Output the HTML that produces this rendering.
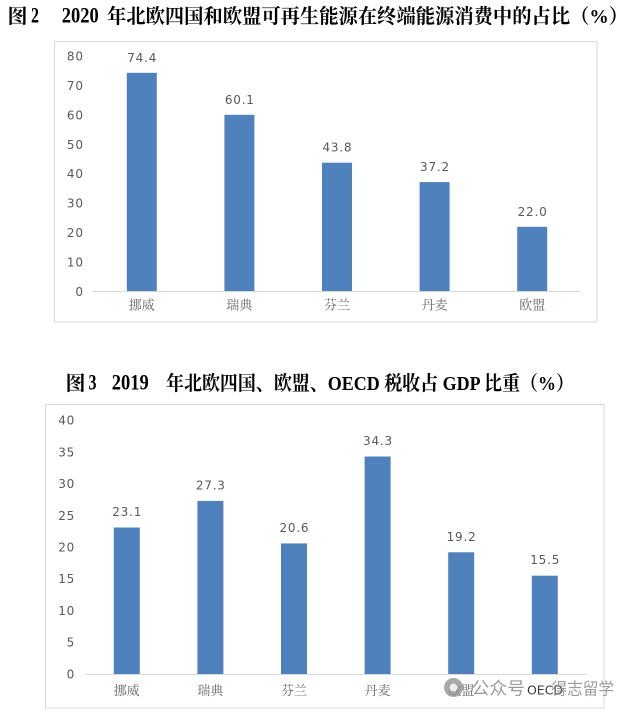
<!DOCTYPE html>
<html><head><meta charset="utf-8"><style>
html,body{margin:0;padding:0;background:#fff;}
svg{display:block;}
.t{font-family:"Liberation Serif","Noto Serif CJK SC",serif;font-weight:bold;fill:#000;}
.n{font-family:"DejaVu Sans","Liberation Sans",sans-serif;font-size:12px;fill:#595959;letter-spacing:0.8px;}
.c{font-family:"Liberation Serif","Noto Serif CJK SC",serif;font-size:13px;fill:#666;}
</style></head><body>
<svg width="635" height="713" viewBox="0 0 635 713" xmlns="http://www.w3.org/2000/svg">
<rect width="635" height="713" fill="#fff"/>
<!-- Title 1 -->
<text class="t" x="7.5" y="23" font-size="20">图</text>
<text class="t" x="31" y="22.7" font-size="22" textLength="8" lengthAdjust="spacingAndGlyphs">2</text>
<text class="t" x="61.7" y="22.7" font-size="22" textLength="37" lengthAdjust="spacingAndGlyphs">2020</text>
<text class="t" x="107" y="23" font-size="20" textLength="521" lengthAdjust="spacingAndGlyphs">年北欧四国和欧盟可再生能源在终端能源消费中的占比（%）</text>

<!-- Chart 1 -->
<rect x="54.5" y="41.5" width="542.5" height="280.5" fill="#fff" stroke="#d9d9d9" stroke-width="1"/>
<g class="n" text-anchor="end">
<text x="83.8" y="295.8">0</text>
<text x="83.8" y="266.4">10</text>
<text x="83.8" y="237">20</text>
<text x="83.8" y="207.6">30</text>
<text x="83.8" y="178.2">40</text>
<text x="83.8" y="148.8">50</text>
<text x="83.8" y="119.4">60</text>
<text x="83.8" y="90">70</text>
<text x="83.8" y="60.6">80</text>
</g>
<g fill="#4f81bd">
<rect x="126.8" y="72.8" width="30" height="218.7"/>
<rect x="224.4" y="114.8" width="30" height="176.7"/>
<rect x="322" y="162.7" width="30" height="128.8"/>
<rect x="419.6" y="182.1" width="30" height="109.4"/>
<rect x="517.2" y="226.8" width="30" height="64.7"/>
</g>
<line x1="93" y1="291.5" x2="581" y2="291.5" stroke="#d9d9d9" stroke-width="1"/>
<g class="n" text-anchor="middle" fill="#404040">
<text x="142.2" y="61.8">74.4</text>
<text x="239.8" y="103.8">60.1</text>
<text x="337.4" y="151.7">43.8</text>
<text x="435" y="171.1">37.2</text>
<text x="532.6" y="215.8">22.0</text>
</g>
<g class="c" text-anchor="middle">
<text x="141.8" y="309.5">挪威</text>
<text x="239.4" y="309.5">瑞典</text>
<text x="337" y="309.5">芬兰</text>
<text x="434.6" y="309.5">丹麦</text>
<text x="532.2" y="309.5">欧盟</text>
</g>

<!-- Title 2 -->
<text class="t" x="65.5" y="390" font-size="20">图</text>
<text class="t" x="88.5" y="389.7" font-size="22" textLength="8" lengthAdjust="spacingAndGlyphs">3</text>
<text class="t" x="111.7" y="389.7" font-size="22" textLength="37" lengthAdjust="spacingAndGlyphs">2019</text>
<text class="t" x="166" y="390" font-size="20" textLength="408" lengthAdjust="spacingAndGlyphs">年北欧四国、欧盟、OECD 税收占 GDP 比重（%）</text>

<!-- Chart 2 -->
<rect x="45.5" y="404.5" width="558.5" height="303.5" fill="#fff" stroke="#d9d9d9" stroke-width="1"/>
<g class="n" text-anchor="end">
<text x="75.1" y="678.3">0</text>
<text x="75.1" y="646.6">5</text>
<text x="75.1" y="614.9">10</text>
<text x="75.1" y="583.2">15</text>
<text x="75.1" y="551.5">20</text>
<text x="75.1" y="519.8">25</text>
<text x="75.1" y="488.1">30</text>
<text x="75.1" y="456.4">35</text>
<text x="75.1" y="424.7">40</text>
</g>
<g fill="#4f81bd">
<rect x="113.8" y="527.5" width="26" height="146.5"/>
<rect x="197.4" y="500.9" width="26" height="173.1"/>
<rect x="281" y="543.4" width="26" height="130.6"/>
<rect x="364.6" y="456.5" width="26" height="217.5"/>
<rect x="448.2" y="552.3" width="26" height="121.7"/>
<rect x="531.8" y="575.7" width="26" height="98.3"/>
</g>
<line x1="85" y1="674.5" x2="587" y2="674.5" stroke="#d9d9d9" stroke-width="1"/>
<g class="n" text-anchor="middle" fill="#404040">
<text x="127.2" y="516">23.1</text>
<text x="210.8" y="489.4">27.3</text>
<text x="294.4" y="531.9">20.6</text>
<text x="378" y="445">34.3</text>
<text x="461.6" y="540.8">19.2</text>
<text x="545.2" y="564.2">15.5</text>
</g>
<g class="c" text-anchor="middle">
<text x="126.8" y="695">挪威</text>
<text x="210.4" y="695">瑞典</text>
<text x="294" y="695">芬兰</text>
<text x="377.6" y="695">丹麦</text>
<text x="461.2" y="695">欧盟</text>
</g>
<text x="545" y="694.5" text-anchor="middle" font-family="DejaVu Sans, Liberation Sans, sans-serif" font-size="12.5" fill="#3a3a3a">OECD</text>

<!-- Watermark -->
<circle cx="453.5" cy="687.5" r="9.5" fill="#8c8c8c" fill-opacity="0.75"/>
<circle cx="453.5" cy="687.5" r="4" fill="#fff" fill-opacity="0.8"/>
<text x="471.5" y="694.5" font-family="Liberation Sans, Noto Sans CJK SC, sans-serif" font-size="17.5" fill="#8a8a8a" fill-opacity="0.85" textLength="53.5" lengthAdjust="spacingAndGlyphs">公众号</text>
<text x="551.5" y="694.5" font-family="Liberation Sans, Noto Sans CJK SC, sans-serif" font-size="16.5" fill="#8a8a8a" fill-opacity="0.85" textLength="62.5" lengthAdjust="spacingAndGlyphs">得志留学</text>
</svg>
</body></html>
